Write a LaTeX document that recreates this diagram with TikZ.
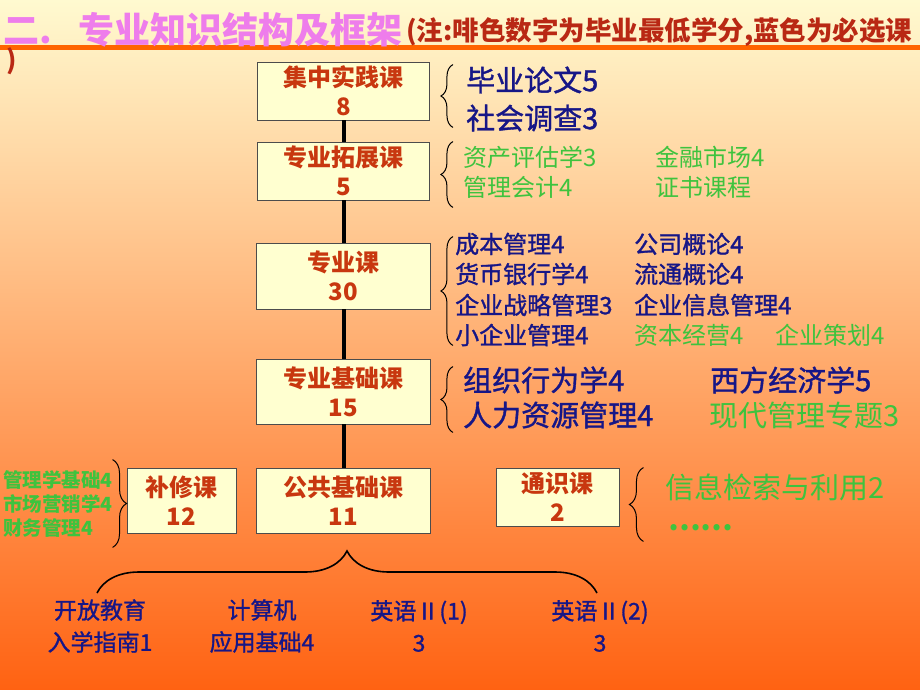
\documentclass[tikz,border=0pt]{standalone}
\usepackage{fontspec}
\setmainfont{Noto Sans CJK SC}
\newfontfamily\heavylist{Noto Sans CJK SC}[FakeBold=1.2]
\usepackage{tikz}
\usetikzlibrary{decorations.pathreplacing, positioning, calc}
\definecolor{cream}{RGB}{255,255,208}
\definecolor{boxred}{RGB}{200,55,15}
\definecolor{navy}{RGB}{22,22,135}
\definecolor{leaf}{RGB}{62,195,62}
\definecolor{pinkish}{RGB}{238,125,235}
\definecolor{notered}{RGB}{185,40,20}
\definecolor{rulecol}{RGB}{255,100,0}
\definecolor{bgtop}{RGB}{255,250,208}
\definecolor{bgmid}{RGB}{255,188,132}
\definecolor{bgbot}{RGB}{255,98,18}
\newcommand{\setfs}[2]{\fontsize{#1}{#2}\selectfont}

\begin{document}
\begin{tikzpicture}[x=1pt, y=-1pt,
    course/.style={draw=black!70, fill=cream, line width=0.9pt, align=center,
                   inner sep=0pt, text=boxred, font=\bfseries\setfs{24}{29}},
    item/.style={anchor=west, inner sep=0pt, font=\setfs{#1}{#1}},
    navyitem/.style={item=#1, text=navy, font=\heavylist\setfs{#1}{#1}},
    leafitem/.style={item=#1, text=leaf},
    foot/.style={align=center, inner sep=0pt, text=navy, font=\heavylist\setfs{23}{32}},
    curly/.style={decorate, decoration={brace, amplitude=#1}, line width=1pt},
    spine/.style={line width=4pt}
  ]
  \shade[top color=bgtop, middle color=bgmid, bottom color=bgbot] (0,0) rectangle (920,690);
  \useasboundingbox (0,0) rectangle (920,690);
  \draw[line width=5pt, rulecol] (0,48) -- (920,48);

  \node[anchor=west, inner sep=0pt, text=pinkish, font=\bfseries\setfs{36}{36}] (title) at (3,30) {二.\hspace{27pt}专业知识结构及框架};
  \node[anchor=west, inner sep=0pt, text=notered, font=\bfseries\setfs{26.5}{26.5}] (note) at (406,32) {(注:啡色数字为毕业最低学分,蓝色为必选课};
  \node[anchor=west, inner sep=0pt, text=notered, font=\bfseries\setfs{26}{26}] (noteend) at (6,61) {)};

  \node[course, minimum width=172pt, minimum height=58pt] (jzsj) at (343.5,91) {集中实践课\\8};
  \node[course, minimum width=172pt, minimum height=58pt] (zytz) at (343.5,171) {专业拓展课\\5};
  \node[course, minimum width=174pt, minimum height=66pt] (zyk) at (343.5,276) {专业课\\30};
  \node[course, minimum width=174pt, minimum height=65pt] (zyjc) at (343.5,391.5) {专业基础课\\15};
  \node[course, minimum width=174pt, minimum height=65pt] (ggjc) at (343.5,500.5) {公共基础课\\11};
  \node[course, minimum width=109pt, minimum height=65pt] (bxk) at (181.5,500.5) {补修课\\12};
  \node[course, minimum width=123pt, minimum height=58pt] (tsk) at (557.5,497) {通识课\\2};
  \draw[spine] (jzsj) -- (zytz) -- (zyk) -- (zyjc) -- (ggjc);

  \draw[curly=12pt] ($(jzsj.south east)+(23,7)$) -- ($(jzsj.north east)+(23,3)$);
  \node[navyitem=29] (bylw) at (466,80) {毕业论文5};
  \node[navyitem=29] (shdc) at (466,118) {社会调查3};

  \draw[curly=12pt] ($(zytz.south east)+(23,7)$) -- ($(zytz.north east)+(23,0)$);
  \node[leafitem=24] (zcpg) at (463,157) {资产评估学3};
  \node[leafitem=24] (glkj) at (463,187) {管理会计4};
  \node[leafitem=24] (jrsc) at (655,157) {金融市场4};
  \node[leafitem=24] (zskc) at (655,187) {证书课程};

  \draw[curly=12pt] ($(zyk.south east)+(22,36)$) -- ($(zyk.north east)+(22,-6)$);
  \node[navyitem=24] (cbgl) at (455,244) {成本管理4};
  \node[navyitem=24] (hbyh) at (455,274) {货币银行学4};
  \node[navyitem=24] (qyzl) at (455,305) {企业战略管理3};
  \node[navyitem=24] (xqy) at (455,335) {小企业管理4};
  \node[navyitem=24] (gsgl) at (634,244) {公司概论4};
  \node[navyitem=24] (ltgl) at (634,274) {流通概论4};
  \node[navyitem=24] (qyxx) at (634,305) {企业信息管理4};
  \node[leafitem=24] (zbjy) at (634,335) {资本经营4};
  \node[leafitem=24] (qych) at (775,335) {企业策划4};

  \draw[curly=12pt] ($(zyjc.south east)+(22,8)$) -- ($(zyjc.north east)+(22,8)$);
  \node[navyitem=29] (zzxw) at (463,380) {组织行为学4};
  \node[navyitem=29] (rlzy) at (463,415) {人力资源管理4};
  \node[navyitem=29] (xfjj) at (710,380) {西方经济学5};
  \node[leafitem=29] (xdgl) at (709,415) {现代管理专题3};

  \draw[curly=14pt] ($(tsk.south east)+(24,15)$) -- ($(tsk.north east)+(24,0)$);
  \node[leafitem=29] (xxjs) at (665,487) {信息检索与利用2};
  \node[leafitem=24, font=\bfseries\setfs{29}{29}] (dots) at (668,528) {……};

  \draw[curly=14pt] ($(bxk.north west)+(-14,-8)$) -- ($(bxk.south west)+(-14,14)$);
  \node[leafitem=19, font=\bfseries\setfs{19.5}{19.5}] (glxjc) at (3,480) {管理学基础4};
  \node[leafitem=19, font=\bfseries\setfs{19.5}{19.5}] (scyx) at (3,504) {市场营销学4};
  \node[leafitem=19, font=\bfseries\setfs{19.5}{19.5}] (cwgl) at (3,528) {财务管理4};

  \node[foot] (kfjy) at (100,626) {开放教育\\入学指南1};
  \node[foot] (jsj) at (262,626) {计算机\\应用基础4};
  \node[foot] (yy1) at (419,626) {英语Ⅱ(1)\\3};
  \node[foot] (yy2) at (600,626) {英语Ⅱ(2)\\3};
  \coordinate (bl) at (97,593);
  \coordinate (br) at (597,593);
  \draw[curly=42pt, line width=1.6pt] (bl) -- (br);
\end{tikzpicture}
\end{document}
